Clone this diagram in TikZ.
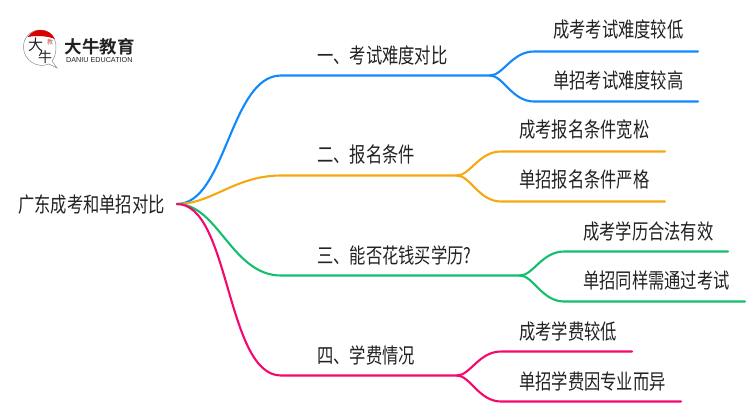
\documentclass[tikz,border=0pt]{standalone}
\usepackage{fontspec}
\setmainfont{Noto Sans CJK SC}[FakeStretch=0.776]
\newfontfamily\cjkb{Noto Sans CJK SC Bold}
\newfontfamily\cjkr{Noto Sans CJK SC}
\newfontfamily\latinlogo{Liberation Sans}
\definecolor{cblue}{HTML}{1089FF}
\definecolor{corange}{HTML}{F5A80F}
\definecolor{cgreen}{HTML}{12BF6E}
\definecolor{cpink}{HTML}{F5076E}
\definecolor{ctext}{HTML}{222222}
\tikzset{
  x=1pt,y=-1pt,
  lab/.style={anchor=west,inner sep=0pt,text=ctext,font=\fontsize{21}{23}\selectfont},
  conn/.style={line width=2.1pt,line cap=round},
}
\begin{document}
\begin{tikzpicture}
\useasboundingbox (0,0) rectangle (750,410);
% logo
\fill[white] (0,0) rectangle (750,410);
\draw[line width=0.5pt,draw=black!45,fill=white] (49,64) .. controls (37,69) and (24,60) .. (23.5,48) .. controls (23,37) and (31,30) .. (40,30) .. controls (50,30) and (56,38) .. (56,47) .. controls (56,54) and (54,59) .. (52,61) -- (57,68) -- cycle;
\fill[red!85!black] (27.5,37) .. controls (31,32.5) and (35,30) .. (40,30) .. controls (47,30) and (52,33) .. (55,39) .. controls (46,35.5) and (36,35.5) .. (27.5,37) -- cycle;
\node[inner sep=0pt,font=\fontsize{6}{6}\selectfont\cjkr,text=red!70!black!70] (seal) at (50,42) {教};
\node[inner sep=0pt,font=\fontsize{15}{15}\selectfont\cjkr,text=ctext] (da) at (35.5,45) {大};
\node[inner sep=0pt,font=\fontsize{14}{14}\selectfont\cjkr,text=ctext] (niu) at (45,57) {牛};
\node[anchor=west,inner sep=0pt,font=\fontsize{17.5}{18}\selectfont\cjkb,text=ctext] (brand) at (64.5,47) {大牛教育};
\node[anchor=west,inner sep=0pt,font=\fontsize{7.2}{8}\selectfont\latinlogo,text=ctext] (brandb) at (66,60.5) {DANIU EDUCATION};
% text nodes
\node[lab] (root) at (18,205) {广东成考和单招对比};
\node[lab] (t1) at (317,55) {一、考试难度对比};
\node[lab] (t2) at (317,155) {二、报名条件};
\node[lab] (t3) at (317,255) {三、能否花钱买学历?};
\node[lab] (t4) at (317,355) {四、学费情况};
\node[lab] (a1) at (553,30) {成考考试难度较低};
\node[lab] (a2) at (553,80) {单招考试难度较高};
\node[lab] (b1) at (519,130) {成考报名条件宽松};
\node[lab] (b2) at (519,180) {单招报名条件严格};
\node[lab] (c1) at (583,231) {成考学历合法有效};
\node[lab] (c2) at (583,281) {单招同样需通过考试};
\node[lab] (d1) at (519,331) {成考学费较低};
\node[lab] (d2) at (519,381) {单招学费因专业而异};
% junctions and free ends
\coordinate (o) at (177,204);
\coordinate (j1) at (490,75.5);
\coordinate (j2) at (457,175.5);
\coordinate (j3) at (520,275.5);
\coordinate (j4) at (457,375.5);
\coordinate (e1) at (698,51.5); \coordinate (e2) at (698,101.5);
\coordinate (e3) at (665,151.5); \coordinate (e4) at (665,201.5);
\coordinate (e5) at (728,251.5); \coordinate (e6) at (745,301.5);
\coordinate (e7) at (632,351.5); \coordinate (e8) at (681,401.5);
% connectors
\draw[conn,cblue] (o) .. controls (226,204) and (230,75.5) .. (281,75.5) -- (j1);
\draw[conn,corange] (o) .. controls (212,204) and (235,175.5) .. (281,175.5) -- (j2);
\draw[conn,cgreen] (o) .. controls (218,204) and (232,275.5) .. (281,275.5) -- (j3);
\draw[conn,cpink] (o) .. controls (230,204) and (226,375.5) .. (281,375.5) -- (j4);
\draw[conn,cblue] (j1) .. controls (503,75.5) and (512,51.5) .. (534,51.5) -- (e1);
\draw[conn,cblue] (j1) .. controls (503,75.5) and (512,101.5) .. (534,101.5) -- (e2);
\draw[conn,corange] (j2) .. controls (470,175.5) and (479,151.5) .. (501,151.5) -- (e3);
\draw[conn,corange] (j2) .. controls (470,175.5) and (479,201.5) .. (501,201.5) -- (e4);
\draw[conn,cgreen] (j3) .. controls (533,275.5) and (542,251.5) .. (564,251.5) -- (e5);
\draw[conn,cgreen] (j3) .. controls (533,275.5) and (542,301.5) .. (564,301.5) -- (e6);
\draw[conn,cpink] (j4) .. controls (470,375.5) and (479,351.5) .. (501,351.5) -- (e7);
\draw[conn,cpink] (j4) .. controls (470,375.5) and (479,401.5) .. (501,401.5) -- (e8);
\end{tikzpicture}
\end{document}
